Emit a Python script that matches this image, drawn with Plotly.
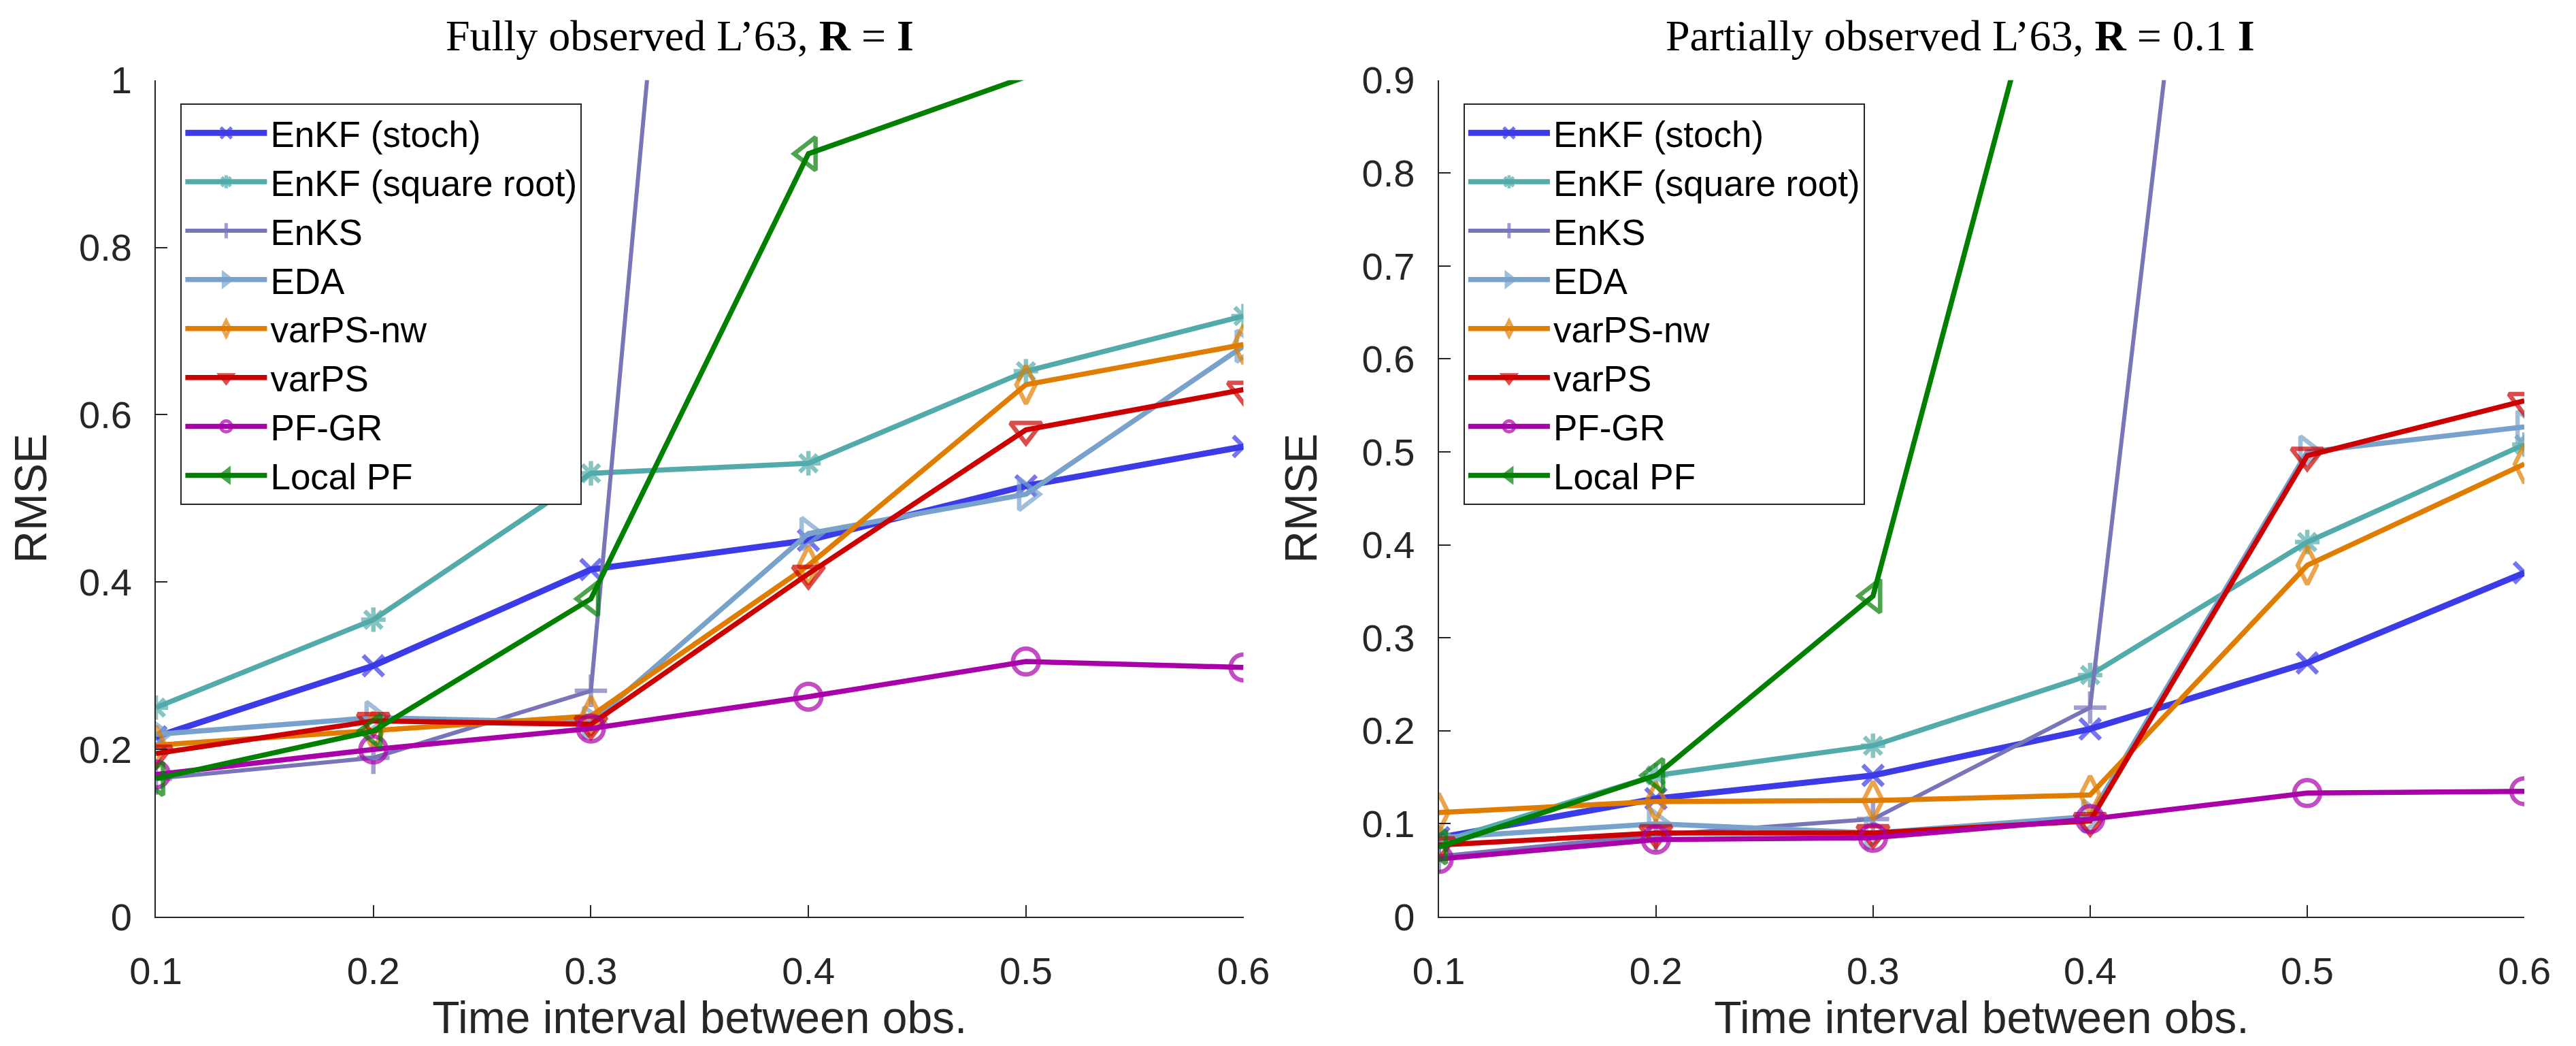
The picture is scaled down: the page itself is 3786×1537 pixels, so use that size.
import plotly.graph_objects as go

# observation interval (x)
dt = [0.1, 0.2, 0.3, 0.4, 0.5, 0.6]

methods = ["EnKF (stoch)", "EnKF (square root)", "EnKS", "EDA",
           "varPS-nw", "varPS", "PF-GR", "Local PF"]

# fully observed L'63, R = I
full_enkf_stoch = [0.215, 0.300, 0.415, 0.450, 0.515, 0.562]
full_enkf_sqrt = [0.250, 0.355, 0.530, 0.542, 0.652, 0.718]
full_enks = [0.165, 0.190, 0.270, 3.10, 4.0, 5.0]
full_eda = [0.218, 0.238, 0.232, 0.458, 0.505, 0.682]
full_varps_nw = [0.205, 0.222, 0.240, 0.420, 0.636, 0.684]
full_varps = [0.195, 0.234, 0.230, 0.410, 0.582, 0.630]
full_pfgr = [0.170, 0.200, 0.225, 0.263, 0.305, 0.298]
full_localpf = [0.165, 0.222, 0.380, 0.912, 1.004, 1.30]

# partially observed L'63, R = 0.1 I
part_enkf_stoch = [0.085, 0.127, 0.152, 0.202, 0.273, 0.370]
part_enkf_sqrt = [0.080, 0.152, 0.184, 0.260, 0.403, 0.508]
part_enks = [0.065, 0.088, 0.105, 0.225, 2.21, 3.0]
part_eda = [0.085, 0.100, 0.090, 0.108, 0.500, 0.527]
part_varps_nw = [0.112, 0.124, 0.125, 0.131, 0.378, 0.487]
part_varps = [0.077, 0.090, 0.090, 0.103, 0.496, 0.555]
part_pfgr = [0.062, 0.083, 0.085, 0.105, 0.133, 0.135]
part_localpf = [0.075, 0.152, 0.345, 1.22, 1.6, 2.0]

full_data = [full_enkf_stoch, full_enkf_sqrt, full_enks, full_eda,
             full_varps_nw, full_varps, full_pfgr, full_localpf]
part_data = [part_enkf_stoch, part_enkf_sqrt, part_enks, part_eda,
             part_varps_nw, part_varps, part_pfgr, part_localpf]

colors = ["#3b3be8", "#52abaa", "#7875b9", "#78a2cb",
          "#e07d00", "#cc0000", "#aa00aa", "#007f00"]
symbols = ["x-thin-open", "asterisk-open", "cross-thin-open", "triangle-right-open",
           "diamond-tall-open", "triangle-down-open", "circle-open", "triangle-left-open"]
sizes = [30, 30, 34, 40, 40, 40, 38, 42]
widths = [9, 7.5, 6, 7.5, 7.5, 7.5, 7.5, 7.5]

AX = "#262626"
SANS = "Liberation Sans, Arial, sans-serif"
SERIF = "Liberation Serif, Times New Roman, serif"

fig = go.Figure()

panels = [(full_data, "x", "y", "legend", 1.0), (part_data, "x2", "y2", "legend2", 0.9)]
for data, xa, ya, lg, ymax in panels:
    for i, name in enumerate(methods):
        # matlab does not draw markers whose centre is outside the axes
        msize = [sizes[i] if v <= ymax else 0 for v in data[i]]
        fig.add_trace(go.Scatter(
            x=dt, y=data[i], name=name, mode="lines+markers",
            xaxis=xa, yaxis=ya, legend=lg,
            line=dict(color=colors[i], width=widths[i]),
            marker=dict(symbol=symbols[i], size=msize, color=colors[i],
                        line=dict(color=colors[i], width=6.5)),
        ))

axis_common = dict(
    showline=True, linecolor=AX, linewidth=2, mirror=False,
    ticks="inside", ticklen=17, tickwidth=2, tickcolor=AX,
    showgrid=False, zeroline=False,
    tickfont=dict(family=SANS, size=56, color=AX),
    title_font=dict(family=SANS, size=66, color=AX),
)
xaxis_common = dict(range=[0.1, 0.6], tickvals=dt, ticklabelstandoff=30,
                    title_text="Time interval between obs.", title_standoff=6,
                    **axis_common)
yaxis_common = dict(ticklabelstandoff=22, title_text="RMSE", title_standoff=44,
                    **axis_common)

legend_common = dict(
    xanchor="left", yanchor="top",
    bgcolor="white", bordercolor=AX, borderwidth=2,
    font=dict(family=SANS, size=53, color="black"),
    itemwidth=120, tracegroupgap=0,
)

fig.update_layout(
    width=3786, height=1537,
    margin=dict(l=0, r=0, t=0, b=0),
    paper_bgcolor="white", plot_bgcolor="white",
    xaxis=dict(domain=[0.0491, 0.4802], anchor="y", **xaxis_common),
    yaxis=dict(domain=[0.1126, 0.9466], range=[0, 1], dtick=0.2, anchor="x", **yaxis_common),
    xaxis2=dict(domain=[0.5576, 0.9879], anchor="y2", **xaxis_common),
    yaxis2=dict(domain=[0.1126, 0.9466], range=[0, 0.9], dtick=0.1, anchor="x2", **yaxis_common),
    legend=dict(x=0.0589, y=0.9232, **legend_common),
    legend2=dict(x=0.5674, y=0.9232, **legend_common),
    annotations=[
        dict(text="Fully observed L’63, <b>R</b> = <b>I</b>", xref="paper", yref="paper",
             x=0.2567, y=1.0, yshift=24, xanchor="center", yanchor="top", showarrow=False,
             font=dict(family=SERIF, size=64, color="black")),
        dict(text="Partially observed L’63, <b>R</b> = 0.1 <b>I</b>", xref="paper", yref="paper",
             x=0.7644, y=1.0, yshift=24, xanchor="center", yanchor="top", showarrow=False,
             font=dict(family=SERIF, size=64, color="black")),
    ],
    showlegend=True,
)

fig.write_html("out.html")
